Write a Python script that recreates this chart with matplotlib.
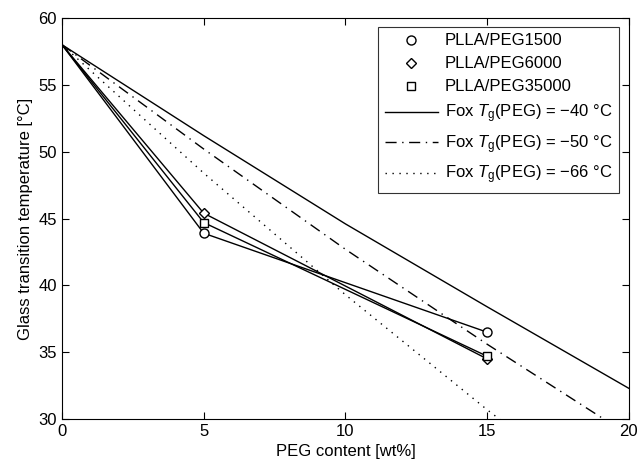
import matplotlib
matplotlib.use("Agg")
import matplotlib.pyplot as plt

plt.rcParams['font.family'] = ['Liberation Sans', 'DejaVu Sans']
plt.rcParams['mathtext.fontset'] = 'custom'
plt.rcParams['mathtext.it'] = 'Liberation Sans:italic'
plt.rcParams['mathtext.rm'] = 'Liberation Sans'

# measured Tg values (wt% PEG -> deg C)
peg = [0, 5, 15]
tg_1500 = [58, 43.9, 36.5]
tg_6000 = [58, 45.4, 34.5]
tg_35000 = [58, 44.7, 34.7]

# Fox predictions
fox_x = [0, 5, 10, 15, 20]
fox_40 = [58, 51.2, 44.6, 38.4, 32.3]
fox_50 = [58, 50.2, 42.7, 35.6, 28.8]
fox_66 = [58, 48.4, 39.3, 30.7, 22.6]

fig = plt.figure(figsize=(6.39, 4.61), dpi=100)
ax = fig.add_axes([0.097, 0.091, 0.887, 0.870])

for y in (tg_1500, tg_6000, tg_35000):
    ax.plot(peg, y, color='black', lw=1.0)

ax.plot(peg[1:], tg_1500[1:], 'o', mfc='white', mec='black', ms=6.5, mew=1, label='PLLA/PEG1500')
ax.plot(peg[1:], tg_6000[1:], 'D', mfc='white', mec='black', ms=5.5, mew=1, label='PLLA/PEG6000')
ax.plot(peg[1:], tg_35000[1:], 's', mfc='white', mec='black', ms=5.5, mew=1, label='PLLA/PEG35000')

ax.plot(fox_x, fox_40, '-', color='black', lw=1.0, label='Fox $T_\\mathrm{g}$(PEG) = \u221240 \u00b0C')
ax.plot(fox_x, fox_50, color='black', lw=1.0, dashes=(8, 4, 1, 4), label='Fox $T_\\mathrm{g}$(PEG) = \u221250 \u00b0C')
ax.plot(fox_x, fox_66, color='black', lw=1.0, dashes=(1, 4), label='Fox $T_\\mathrm{g}$(PEG) = \u221266 \u00b0C')

ax.set_xlim(0, 20)
ax.set_ylim(30, 60)
ax.set_xticks([0, 5, 10, 15, 20])
ax.set_yticks([30, 35, 40, 45, 50, 55, 60])
ax.tick_params(direction='in', top=True, right=True, labelsize=12, length=5)
ax.set_xlabel('PEG content [wt%]', fontsize=12)
ax.set_ylabel('Glass transition temperature [\u00b0C]', fontsize=12)

leg = ax.legend(loc='upper right', fontsize=12, frameon=True, fancybox=False,
                edgecolor='black', handlelength=3.2, handletextpad=0.4,
                borderpad=0.4, labelspacing=0.48, borderaxespad=0,
                bbox_to_anchor=(0.982, 0.978))
leg.get_frame().set_linewidth(0.8)

fig.savefig('out.png', dpi=100)
